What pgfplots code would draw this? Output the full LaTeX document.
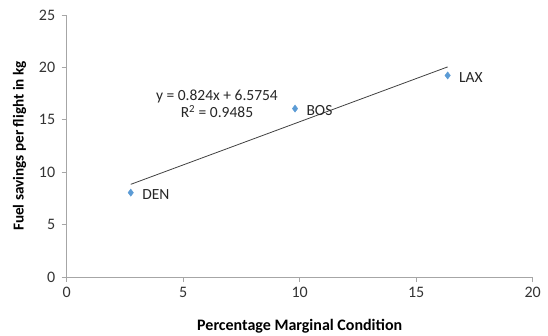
\documentclass[border=0pt]{standalone}
\usepackage{pgfplots}
\pgfplotsset{compat=1.18}
\usepackage{fontspec}
\setmainfont{Carlito}
\definecolor{mblue}{HTML}{5B9BD5}
\definecolor{axgray}{HTML}{A6A6A6}
\begin{document}
\begin{tikzpicture}[x=1bp,y=1bp]
\useasboundingbox (-66.7bp,-59bp) rectangle (481.3bp,277bp);
\begin{axis}[
  at={(0,0)}, anchor=south west,
  scale only axis,
  width=466bp, height=262bp,
  xmin=0, xmax=20, ymin=0, ymax=25,
  xtick={0,5,10,15,20}, ytick={0,5,10,15,20,25},
  axis lines=left,
  axis line style={axgray, line width=0.8pt, -},
  tick style={axgray, line width=0.8pt},
  tick align=outside,
  major tick length=5bp,
  /pgf/number format/assume math mode=true,
  ticklabel style={font=\fontsize{16bp}{18bp}\selectfont, text=black!80},
  xticklabel style={yshift=-2bp},
  yticklabel style={xshift=-3bp},
  xlabel={\textbf{Percentage Marginal Condition}},
  ylabel={\textbf{Fuel savings per flight in kg}},
  xlabel style={font=\fontsize{16bp}{18bp}\selectfont, yshift=-14bp},
  ylabel style={font=\fontsize{15.2bp}{16bp}\selectfont, yshift=6bp},
  clip=false,
]
\addplot[black!75, line width=0.8pt] coordinates {(2.75,8.8414) (16.35,20.0478)};
\addplot[only marks, mark=diamond*, mark size=3.6bp, mark options={fill=mblue, draw=mblue},
  nodes near coords, point meta=explicit symbolic,
  every node near coord/.append style={anchor=west, xshift=8bp, yshift=-2bp, font=\fontsize{15.5bp}{17bp}\selectfont, text=black!85}]
  coordinates {(2.75,8.05) [DEN] (9.8,16.07) [BOS] (16.35,19.23) [LAX]};
\node[font=\fontsize{15.5bp}{17bp}\selectfont, text=black!85, align=center] at (axis cs:6.45,16.55) {y = 0.824x + 6.5754\\[0bp]R\textsuperscript{2} = 0.9485};
\end{axis}
\end{tikzpicture}
\end{document}
